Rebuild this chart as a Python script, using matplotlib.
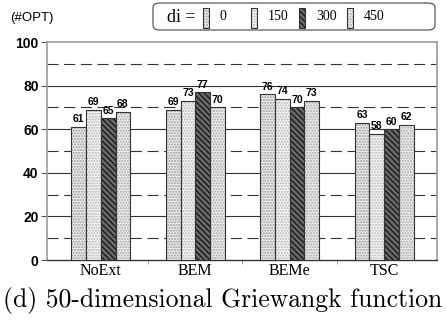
import numpy as np
import matplotlib
matplotlib.use("Agg")
import matplotlib.pyplot as plt
from matplotlib.patches import Rectangle, FancyBboxPatch

categories = ["NoExt", "BEM", "BEMe", "TSC"]
di_labels = ["0", "150", "300", "450"]
values = {
    "0": [61, 69, 76, 63],
    "150": [69, 73, 74, 58],
    "300": [65, 77, 70, 60],
    "450": [68, 70, 73, 62],
}
yticks = [0, 20, 40, 60, 80, 100]

# fill, hatch, hatch colour for each series
styles = [
    ("#ececec", "......", "#9a9a9a"),
    ("#f4f4f4", "......", "#b8b8b8"),
    ("#6a6a6a", "\\\\\\\\\\\\", "#1a1a1a"),
    ("#ececec", "......", "#a8a8a8"),
]

W, H = 447, 320
fig = plt.figure(figsize=(W / 100, H / 100), dpi=100)
ax = fig.add_axes([47 / W, 1 - 260 / H, 390 / W, 218 / H])

x = np.arange(len(categories))
w = 0.156
for i, d in enumerate(di_labels):
    fc, h, hc = styles[i]
    pos = x + (i - 1.5) * w
    ax.bar(pos, values[d], w, color=fc, hatch=h, edgecolor=hc, linewidth=0, zorder=3)
    ax.bar(pos, values[d], w, fill=False, edgecolor="#333333", linewidth=0.8, zorder=4)
    for px, v in zip(pos, values[d]):
        ax.text(px, v + 1.2, str(v), ha="center", va="bottom", fontsize=7.5,
                fontweight="bold", family="Liberation Sans", zorder=5)

for g in [20, 40, 60, 80]:
    ax.axhline(g, color="#333333", lw=0.8, zorder=1)
for g in [10, 30, 50, 70, 90]:
    ax.axhline(g, color="#333333", lw=0.8, ls=(0, (10, 5)), zorder=1)

ax.set_xlim(-0.57, 3.56)
ax.set_ylim(0, 100)
ax.set_yticks(yticks)
ax.set_yticklabels([str(t) for t in yticks], fontsize=10, fontweight="bold",
                   family="Liberation Sans")
ax.set_xticks(x)
ax.set_xticklabels(categories, fontsize=11.5, family="Liberation Serif")
ax.tick_params(axis="x", length=0, pad=2)
ax.set_xticks(x[:-1] + 0.5, minor=True)
ax.tick_params(axis="x", which="minor", length=3, color="#888888")
ax.tick_params(axis="y", length=4, width=0.8, color="#555555", pad=2)
for s in ["left", "top", "right"]:
    ax.spines[s].set_color("#9a9a9a")
    ax.spines[s].set_linewidth(1.2)
ax.spines["bottom"].set_color("#333333")
ax.spines["bottom"].set_linewidth(1.0)

fig.text(10 / W, 1 - 18 / H, "(#OPT)", fontsize=9.5, family="Liberation Sans",
         va="center", ha="left")

# legend box, drawn by hand so the columns keep an even spacing
box = FancyBboxPatch((153 / W, 1 - 30 / H), 282 / W, 27 / H,
                     boxstyle="round,pad=0,rounding_size=0.015",
                     transform=fig.transFigure, facecolor="white",
                     edgecolor="#444444", linewidth=0.8)
fig.patches.append(box)
fig.text(167 / W, 1 - 17 / H, "di =", fontsize=13, family="Liberation Serif",
         va="center", ha="left")
for i, d in enumerate(di_labels):
    fc, h, hc = styles[i]
    x0 = 203 + 48 * i
    fig.patches.append(Rectangle((x0 / W, 1 - 28 / H), 6 / W, 20 / H,
                                 transform=fig.transFigure, facecolor=fc,
                                 hatch=h, edgecolor=hc, linewidth=0))
    fig.patches.append(Rectangle((x0 / W, 1 - 28 / H), 6 / W, 20 / H,
                                 transform=fig.transFigure, fill=False,
                                 edgecolor="#333333", linewidth=0.8))
    fig.text((x0 + 17) / W, 1 - 17 / H, d, fontsize=10, family="Liberation Serif",
             va="center", ha="left")

fig.text(223 / W, 1 - 300 / H, "(d) 50-dimensional Griewangk function",
         fontsize=18.5, family="cmr10", ha="center", va="center")

fig.savefig("out.png", dpi=100)
